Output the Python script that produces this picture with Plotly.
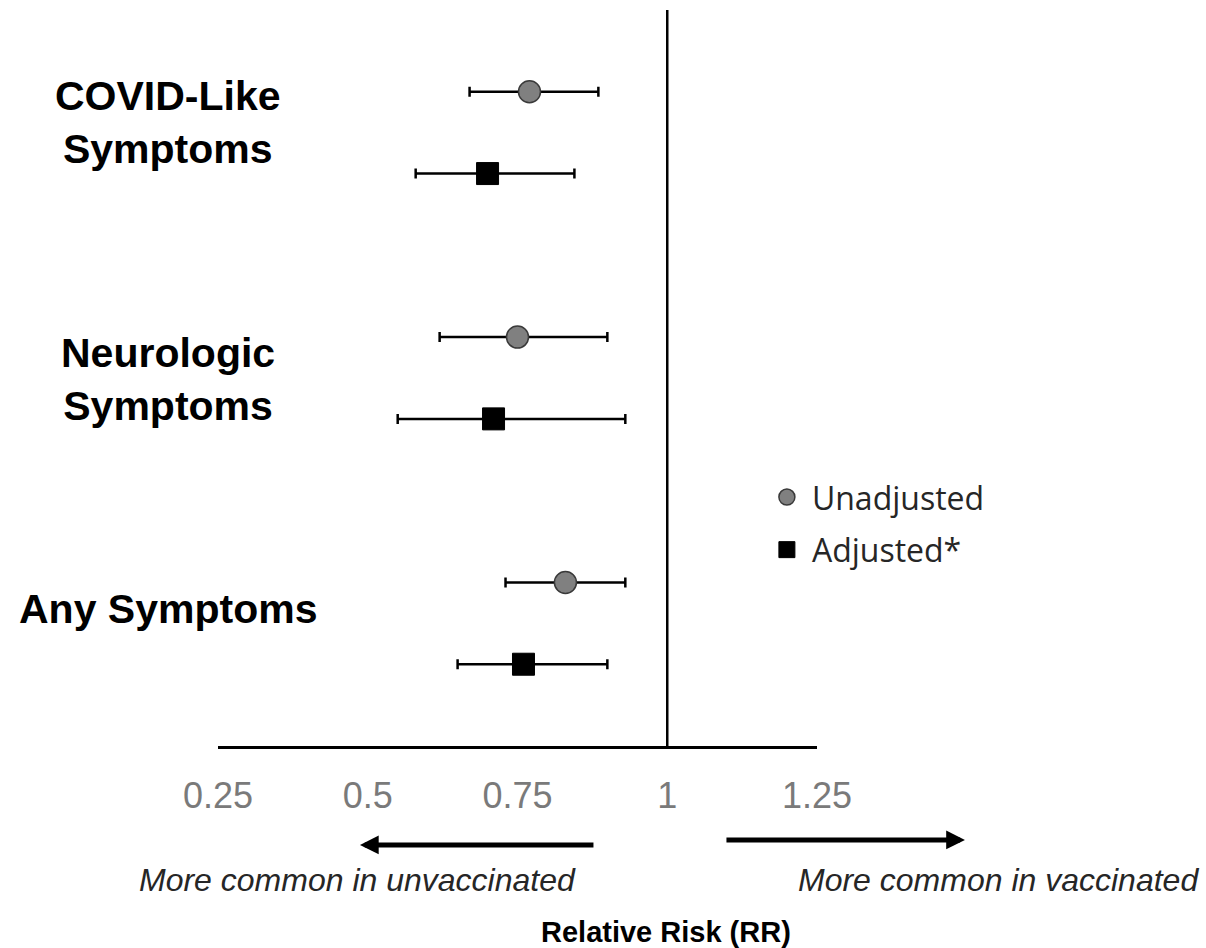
import plotly.graph_objects as go

# ---- data ----
categories = ["COVID-Like<br>Symptoms", "Neurologic<br>Symptoms", "Any Symptoms"]
unadj_rr = [0.77, 0.75, 0.83]
unadj_lo = [0.67, 0.62, 0.73]
unadj_hi = [0.885, 0.90, 0.93]
adj_rr = [0.70, 0.71, 0.76]
adj_lo = [0.58, 0.55, 0.65]
adj_hi = [0.845, 0.93, 0.90]
tick_vals = [0.25, 0.5, 0.75, 1, 1.25]
tick_text = ["0.25", "0.5", "0.75", "1", "1.25"]

n = len(categories)
# row positions (top group first): unadjusted above adjusted
unadj_y = [3 * (n - 1 - i) + 2 for i in range(n)]
adj_y = [3 * (n - 1 - i) + 1 for i in range(n)]
label_offsets = [0.62, 0.48, 0.67]
label_y = [3 * (n - 1 - i) + 1 + off for i, off in enumerate(label_offsets)]

FONT = "Arial, Liberation Sans, sans-serif"

fig = go.Figure()
fig.add_trace(go.Scatter(
    x=unadj_rr, y=unadj_y, mode="markers", name="Unadjusted",
    legendgroup="a",
    marker=dict(symbol="circle", size=22, color="#808080",
                line=dict(color="#3a3a3a", width=1.5)),
    error_x=dict(type="data", symmetric=False,
                 array=[h - r for h, r in zip(unadj_hi, unadj_rr)],
                 arrayminus=[r - l for r, l in zip(unadj_rr, unadj_lo)],
                 color="black", thickness=2.5, width=5),
))
fig.add_trace(go.Scatter(
    x=adj_rr, y=adj_y, mode="markers", name="Adjusted*",
    legendgroup="b",
    marker=dict(symbol="square", size=22, color="black",
                line=dict(color="black", width=1)),
    error_x=dict(type="data", symmetric=False,
                 array=[h - r for h, r in zip(adj_hi, adj_rr)],
                 arrayminus=[r - l for r, l in zip(adj_rr, adj_lo)],
                 color="black", thickness=2.5, width=5),
))

fig.add_shape(type="line", xref="x", yref="y", x0=1, x1=1, y0=0, y1=9,
              line=dict(color="black", width=2.5), layer="below")

annotations = []
for lab, yy in zip(categories, label_y):
    annotations.append(dict(text=lab, xref="paper", yref="y", x=-0.0835, y=yy,
                            xanchor="center", yanchor="middle", showarrow=False,
                            align="center",
                            font=dict(family=FONT, size=41, color="black", weight="bold")))
# arrows
annotations.append(dict(text="", xref="paper", yref="paper", x=0.237, y=-0.1345,
                        ax=235, ay=0, showarrow=True, arrowhead=2, arrowsize=0.75,
                        arrowwidth=5, arrowcolor="black"))
annotations.append(dict(text="", xref="paper", yref="paper", x=1.247, y=-0.1277,
                        ax=-240, ay=0, showarrow=True, arrowhead=2, arrowsize=0.75,
                        arrowwidth=5, arrowcolor="black"))
annotations.append(dict(text="<i>More common in unvaccinated</i>", xref="paper", yref="paper",
                        x=0.233, y=-0.182, xanchor="center", yanchor="middle", showarrow=False,
                        font=dict(family=FONT, size=32, color="#262626")))
annotations.append(dict(text="<i>More common in vaccinated</i>", xref="paper", yref="paper",
                        x=1.303, y=-0.182, xanchor="center", yanchor="middle", showarrow=False,
                        font=dict(family=FONT, size=32, color="#262626")))
annotations.append(dict(text="Relative Risk (RR)", xref="paper", yref="paper",
                        x=0.748, y=-0.2527, xanchor="center", yanchor="middle", showarrow=False,
                        font=dict(family=FONT, size=29, color="black", weight="bold")))

fig.update_layout(
    width=1206, height=948,
    margin=dict(l=218, r=389, t=10, b=202),
    plot_bgcolor="white", paper_bgcolor="white",
    showlegend=True,
    legend=dict(x=0.908, y=0.302, xanchor="left", yanchor="middle",
                font=dict(family="Open Sans, Noto Sans, sans-serif", size=32, color="#262626"),
                traceorder="grouped", tracegroupgap=8, itemwidth=40,
                bgcolor="rgba(0,0,0,0)"),
    xaxis=dict(range=[0.25, 1.25], tickvals=tick_vals, ticktext=tick_text,
               showline=True, linecolor="black", linewidth=3, showgrid=False,
               zeroline=False, ticks="", ticklabelstandoff=16,
               tickfont=dict(family=FONT, size=36, color="#7a7a7a"), fixedrange=True),
    yaxis=dict(range=[0, 9], visible=False, showgrid=False, zeroline=False, fixedrange=True),
    annotations=annotations,
)

fig.write_html("out.html", config={"displayModeBar": False},
               post_script="document.body.style.margin='0';document.body.style.overflow='hidden';")
